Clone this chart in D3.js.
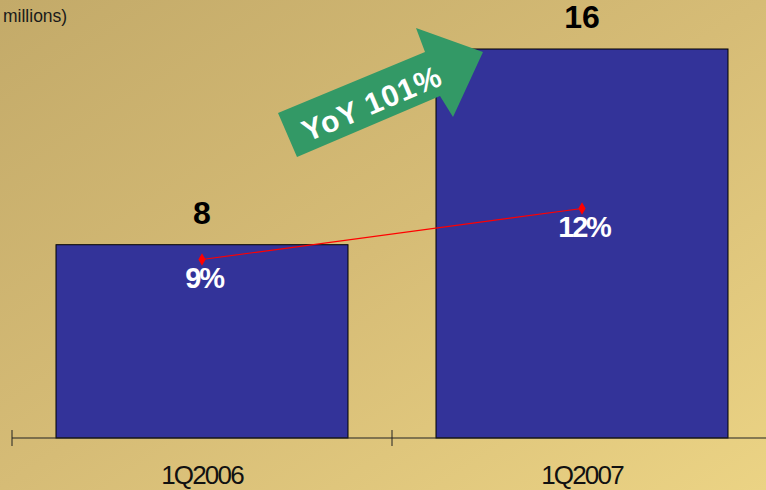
<!DOCTYPE html>
<html><head><meta charset="utf-8">
<script src="https://cdn.jsdelivr.net/npm/d3@7"></script>
<style>
html,body{margin:0;padding:0;overflow:hidden;}
text{font-family:"Liberation Sans",Arial,sans-serif;}
</style>
</head><body>
<svg id="c" width="766" height="490"></svg>
<script>
const categories = ["1Q2006", "1Q2007"];
const revenue = [7.95, 16.0];
const revenueLabels = ["8", "16"];
const margin = [9, 12];
const marginLabels = ["9%", "12%"];
const yoyLabel = "YoY 101%";
const unitLabel = "millions)";

const svg = d3.select("#c");
const W = 766, H = 490;
const defs = svg.append("defs");
const g = defs.append("linearGradient").attr("id","bg").attr("x1","0").attr("y1","0").attr("x2","1").attr("y2","1");
g.append("stop").attr("offset","0").attr("stop-color","#c3aa69");
g.append("stop").attr("offset","0.5").attr("stop-color","#d6bc76");
g.append("stop").attr("offset","1").attr("stop-color","#ebd384");
svg.append("rect").attr("width",W).attr("height",H).attr("fill","url(#bg)");

const axisY = 438;
const step = 380;
const xb = d3.scaleBand().domain(categories).range([12, 12 + step*categories.length]).paddingInner(0.2316).paddingOuter(0.1158);
const y = d3.scaleLinear().domain([0, 16]).range([axisY, 49]);
const y2 = d3.scaleLinear().domain([-1.5, 24]).range([axisY, axisY - 25.5*17]);

// bars
svg.selectAll("rect.bar").data(revenue).join("rect").attr("class","bar")
  .attr("x",(d,i)=>xb(categories[i])).attr("width",xb.bandwidth())
  .attr("y",d=>y(d)).attr("height",d=>axisY - y(d))
  .attr("fill","#333399").attr("stroke","#000").attr("stroke-width",1);

// axis
svg.append("line").attr("x1",12).attr("x2",W).attr("y1",axisY).attr("y2",axisY).attr("stroke","#222").attr("stroke-width",1.2);
const outer = xb.step()*xb.paddingOuter();
svg.selectAll("line.tick").data(categories).join("line").attr("class","tick")
  .attr("x1",c=>xb(c) - outer).attr("x2",c=>xb(c) - outer)
  .attr("y1",axisY-8).attr("y2",axisY+8).attr("stroke","#222").attr("stroke-width",1);

// category labels
const cx = c => xb(c) + xb.bandwidth()/2;
svg.selectAll("text.cat").data(categories).join("text").attr("class","cat")
  .attr("x",c=>cx(c)).attr("y",484).attr("text-anchor","middle")
  .attr("font-size",26).attr("letter-spacing",-1.8).attr("fill","#111").text(c=>c);

// value labels
svg.selectAll("text.val").data(revenue).join("text").attr("class","val")
  .attr("x",(d,i)=>cx(categories[i])).attr("y",d=>y(d)-21).attr("text-anchor","middle")
  .attr("font-size",32).attr("font-weight","bold").attr("fill","#000").text((d,i)=>revenueLabels[i]);

// margin line
const line = d3.line().x((d,i)=>cx(categories[i])).y(d=>y2(d));
svg.append("path").datum(margin).attr("d",line).attr("fill","none").attr("stroke","#ff0000").attr("stroke-width",1.2);
svg.selectAll("path.pt").data(margin).join("path").attr("class","pt")
  .attr("d",d3.symbol(d3.symbolDiamond, 45))
  .attr("transform",(d,i)=>`translate(${cx(categories[i])},${y2(d)})`).attr("fill","#ff0000");
svg.selectAll("text.pct").data(margin).join("text").attr("class","pct")
  .attr("x",(d,i)=>cx(categories[i])+2).attr("y",d=>y2(d)+28).attr("text-anchor","middle")
  .attr("font-size",29).attr("font-weight","bold").attr("letter-spacing",-2.2).attr("fill","#fff").text((d,i)=>marginLabels[i]);

// arrow
const arrow = [[278,113],[425,52],[416,28],[483,52],[453,117],[440,96],[297,157]];
svg.append("polygon").attr("points",arrow.map(p=>p.join(",")).join(" ")).attr("fill","#339966");
svg.append("text").attr("transform","translate(376,113) rotate(-23)").attr("text-anchor","middle")
  .attr("font-size",30).attr("font-weight","bold").attr("letter-spacing",1).attr("fill","#fff").text(yoyLabel);

// unit label
svg.append("text").attr("x",3).attr("y",22).attr("font-size",17.5).attr("fill","#1a1a1a").text(unitLabel);
</script>
</body></html>
